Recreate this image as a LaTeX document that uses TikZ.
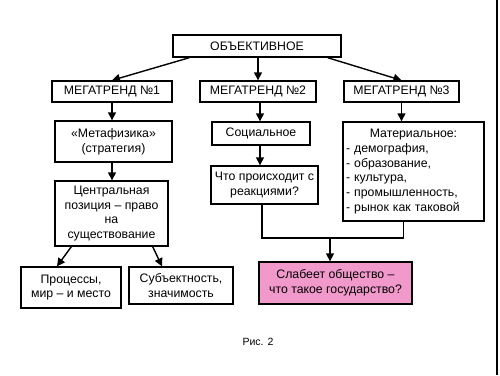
\documentclass[tikz,border=0pt]{standalone}
\usepackage{fontspec}
\setmainfont{Liberation Sans}
\usetikzlibrary{arrows.meta}
\definecolor{pinkbox}{RGB}{242,153,204}

\begin{document}
\begin{tikzpicture}[x=1pt, y=-1pt,
box/.style = {draw, line width=1.4pt, inner sep=2pt, align=center,
  font=\fontsize{12.3}{14.8}\selectfont},
arr/.style = {line width=1.4pt, -{Triangle[length=8pt,width=8pt]}}]
\useasboundingbox (0,0) rectangle (500,375);
\draw[line width=1.4pt] (497,0) -- (497,375);
\node[box, minimum width=168pt, minimum height=22pt] (obj) at (257,46) {ОБЪЕКТИВНОЕ};
\node[box, minimum width=120pt, minimum height=21pt] (mt1) at (112,91.5) {МЕГАТРЕНД №1};
\node[box, minimum width=116pt, minimum height=21pt] (mt2) at (258,91.5) {МЕГАТРЕНД №2};
\node[box, minimum width=115pt, minimum height=21pt] (mt3) at (401.5,91.5) {МЕГАТРЕНД №3};
\node[box, minimum width=117pt, minimum height=41pt] (meta) at (113.5,141.5) {«Метафизика»\\(стратегия)};
\node[box, minimum width=98pt, minimum height=23pt] (soc) at (261,133.5) {Социальное};
\node[box, minimum width=141pt, minimum height=99pt, text width=135pt, align=left] (mat) at (413.5,171.5)
  {\makebox[135pt][c]{Материальное:}\\- демография,\\- образование,\\- культура,\\- промышленность,\\- рынок как таковой};
\node[box, minimum width=107pt, minimum height=38pt] (what) at (264.5,185) {Что происходит с\\реакциями?};
\node[box, minimum width=113pt, minimum height=65pt] (centr) at (111.5,213.5) {Центральная\\позиция -- право\\на\\существование};
\node[box, minimum width=100pt, minimum height=41pt] (proc) at (71,287.5) {Процессы,\\мир -- и место};
\node[box, minimum width=104pt, minimum height=37pt] (subj) at (181,285.5) {Субъектность,\\значимость};
\node[box, fill=pinkbox, minimum width=153pt, minimum height=42pt] (weak) at (335.5,283) {Слабеет общество --\\что такое государство?};
\node[font=\fontsize{10.5}{12}\selectfont] (fig) at (258,342) {Рис. 2};
\coordinate (join) at (330,238);
\draw[arr] ([xshift=17pt]obj.south west) -- (mt1.north);
\draw[arr] (obj.south -| mt2.north) -- (mt2.north);
\draw[arr] ([xshift=-14pt]obj.south east) -- (mt3.north);
\draw[arr] (mt1.south) -- (mt1.south |- meta.north);
\draw[arr] (meta.south -| mt1.south) -- (mt1.south |- centr.north);
\draw[arr] ([xshift=2pt]mt2.south) -- ([xshift=2pt]mt2.south |- soc.north);
\draw[arr] ([xshift=-1pt]soc.south) -- ([xshift=-1pt]soc.south |- what.north);
\draw[arr] (mt3.south) -- (mt3.south |- mat.north);
\draw[arr] ([xshift=17pt]centr.south west) -- ([xshift=-14pt]proc.north);
\draw[arr] ([xshift=-16pt]centr.south east) -- ([xshift=-19pt]subj.north);
\draw[line width=1.4pt] ([xshift=-2.5pt]what.south) |- (join) -| ([xshift=-10pt]mat.south);
\draw[arr] (join) -- (join |- weak.north);
\end{tikzpicture}
\end{document}
